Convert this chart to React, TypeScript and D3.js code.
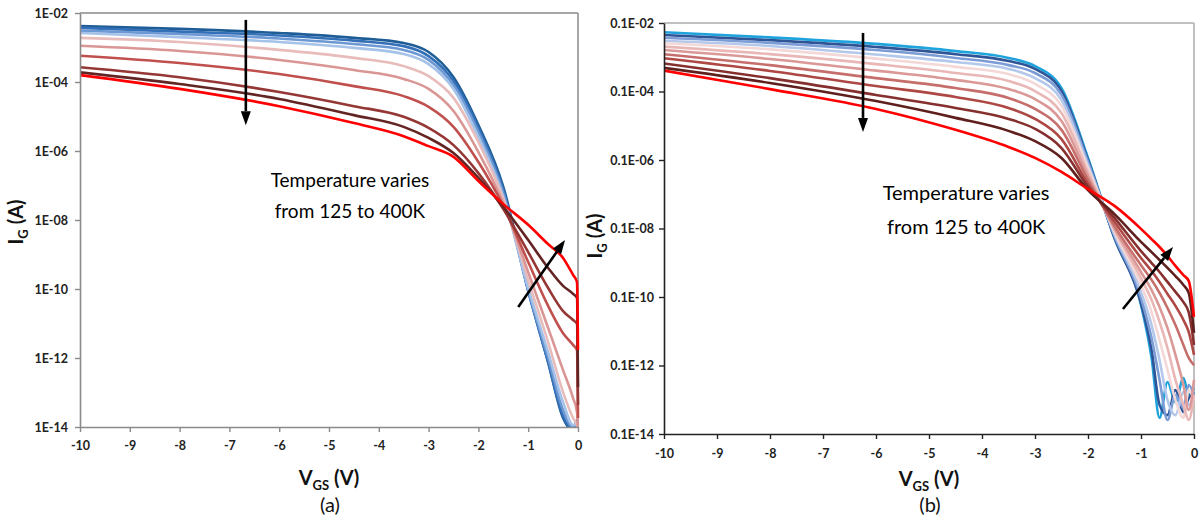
import React, { useEffect, useRef } from 'react';
import * as d3 from 'd3';

const W = 1200;
const H = 524;

// ---- panel (a): gate voltage grid and log10(I_G) per temperature ----
const vgsA = [-10, -8, -6, -4.5, -3.5, -3, -2.5, -2, -1.5, -1, -0.6, -0.3, -0.1, -0.02, 0];
const igA1 = [-2.38, -2.46, -2.58, -2.72, -2.87, -3.13, -3.86, -5.25, -7.04, -10.03, -12.12, -13.74, -14.1, -13.8, -14.2];
const igA2 = [-2.43, -2.54, -2.65, -2.8, -2.96, -3.25, -3.97, -5.33, -7.13, -10.06, -12.12, -13.68, -14.05, -13.85, -14.2];
const igA3 = [-2.51, -2.61, -2.74, -2.9, -3.07, -3.36, -4.09, -5.45, -7.22, -10.03, -12.0, -13.51, -14.0, -13.9, -14.2];
const igA4 = [-2.58, -2.7, -2.84, -3.01, -3.19, -3.48, -4.2, -5.59, -7.33, -9.97, -11.83, -13.28, -13.94, -13.9, -14.2];
const igA5 = [-2.72, -2.84, -3.07, -3.3, -3.54, -3.83, -4.46, -5.74, -7.39, -9.74, -11.54, -12.99, -13.74, -13.95, -14.2];
const igA6 = [-2.95, -3.1, -3.36, -3.65, -3.91, -4.2, -4.84, -6.03, -7.51, -9.51, -11.13, -12.35, -13.16, -13.57, -14.2];
const igA7 = [-3.24, -3.45, -3.77, -4.12, -4.41, -4.72, -5.3, -6.32, -7.59, -9.22, -10.49, -11.28, -11.62, -11.77, -13.74];
const igA8 = [-3.57, -3.86, -4.29, -4.7, -5.01, -5.33, -5.83, -6.64, -7.68, -8.93, -9.97, -10.64, -10.9, -11.01, -13.36];
const igA9 = [-3.72, -4.06, -4.49, -4.96, -5.3, -5.62, -6.06, -6.78, -7.62, -8.58, -9.39, -9.91, -10.14, -10.26, -12.84];
const igA10 = [-3.8, -4.2, -4.7, -5.19, -5.57, -5.86, -6.17, -6.87, -7.54, -8.14, -8.7, -9.1, -9.59, -9.8, -11.77];
const colorsA = ['#1F5D97', '#3470B8', '#6C98D4', '#A5C2E8', '#E8BCBB', '#D99694', '#C0504D', '#953735', '#632523', '#FF0000'];
const yTicksA = [-2, -4, -6, -8, -10, -12, -14];
const yLabelsA = ['1E-02', '1E-04', '1E-06', '1E-08', '1E-10', '1E-12', '1E-14'];

// ---- panel (b) ----
const vgsB = [-10, -8, -6, -4.5, -3.5, -3, -2.5, -2, -1.5, -1, -0.8, -0.65, -0.5, -0.35, -0.2, -0.1, 0];
const igB1 = [-3.27, -3.42, -3.61, -3.82, -4.02, -4.26, -4.9, -6.94, -9.28, -11.23, -12.78, -14.53, -13.48, -14.07, -13.37, -13.86, -13.66];
const igB2 = [-3.35, -3.5, -3.7, -3.91, -4.11, -4.34, -4.99, -7.0, -9.28, -11.18, -12.55, -14.15, -14.45, -13.72, -14.36, -13.95, -13.77];
const igB3 = [-3.43, -3.58, -3.79, -4.02, -4.23, -4.46, -5.1, -7.06, -9.22, -11.03, -12.2, -13.42, -14.59, -13.86, -14.24, -13.57, -13.86];
const igB4 = [-3.52, -3.67, -3.92, -4.14, -4.34, -4.61, -5.25, -7.15, -9.16, -10.85, -11.82, -12.84, -14.01, -14.45, -13.77, -14.15, -13.95];
const igB5 = [-3.59, -3.77, -4.04, -4.28, -4.49, -4.78, -5.42, -7.23, -9.1, -10.65, -11.44, -12.26, -13.13, -14.01, -14.53, -13.72, -14.01];
const igB6 = [-3.69, -3.91, -4.2, -4.46, -4.69, -4.99, -5.63, -7.35, -9.04, -10.45, -11.09, -11.73, -12.49, -13.42, -14.15, -14.59, -13.86];
const igB7 = [-3.79, -4.05, -4.39, -4.66, -4.93, -5.22, -5.86, -7.47, -8.99, -10.27, -10.8, -11.29, -11.91, -12.69, -13.57, -14.3, -13.42];
const igB8 = [-3.91, -4.23, -4.61, -4.9, -5.19, -5.51, -6.12, -7.58, -8.93, -10.07, -10.5, -10.88, -11.32, -11.82, -12.4, -12.78, -12.99];
const igB9 = [-4.03, -4.4, -4.84, -5.16, -5.48, -5.8, -6.39, -7.7, -8.81, -9.86, -10.24, -10.56, -10.91, -11.26, -11.67, -12.02, -12.69];
const igB10 = [-4.18, -4.61, -5.1, -5.48, -5.8, -6.09, -6.65, -7.79, -8.69, -9.66, -10.01, -10.27, -10.56, -10.85, -11.15, -11.44, -12.4];
const igB11 = [-4.31, -4.75, -5.28, -5.77, -6.15, -6.45, -6.94, -7.88, -8.58, -9.39, -9.69, -9.92, -10.15, -10.39, -10.65, -10.88, -12.05];
const igB12 = [-4.39, -4.93, -5.51, -6.12, -6.62, -6.94, -7.35, -7.85, -8.34, -9.01, -9.31, -9.54, -9.8, -10.09, -10.36, -10.53, -11.58];
const colorsB = ['#1FA3DD', '#2F5597', '#7C9CD6', '#B3C8EA', '#F3D8D7', '#E9B7B6', '#DA9896', '#C66E6B', '#AD4845', '#85302E', '#5F1F1D', '#FF0000'];
const yTicksB = [-3, -5, -7, -9, -11, -13, -15];
const yLabelsB = ['0.1E-02', '0.1E-04', '0.1E-06', '0.1E-08', '0.1E-10', '0.1E-12', '0.1E-14'];

const xTicks = [-10, -9, -8, -7, -6, -5, -4, -3, -2, -1, 0];

// arrows and notes, in (V, log10 I) coordinates
const arrowsA = [
  [[-6.67, -2.2], [-6.67, -5.25]],
  [[-1.2, -10.52], [-0.26, -8.58]],
];
const arrowsB = [
  [[-6.245, -3.29], [-6.245, -6.18]],
  [[-1.34, -11.35], [-0.396, -9.54]],
];
const noteLines = ['Temperature varies', 'from 125 to 400K'];

const tickFont = "'Liberation Sans Narrow', 'Arial Narrow', Lato, sans-serif";
const textFont = "Lato, 'Open Sans', sans-serif";

const panels = [
  {
    id: 'a', left: 80, right: 578, top: 13, bottom: 427, yMin: -14, yMax: -2,
    vgs: vgsA, series: [igA1, igA2, igA3, igA4, igA5, igA6, igA7, igA8, igA9, igA10], colors: colorsA,
    yTicks: yTicksA, yLabels: yLabelsA, arrows: arrowsA,
    axisColor: '#8a8a8a', frameColor: '#8a8a8a', frameWidth: 1.5, yPad: 7, xPad: 9,
    note: { v: -4.58, l: [-7.04, -7.94], size: 19 },
    yTitle: [23, 222], xTitle: [329, 485], tag: ['(a)', 330, 512],
  },
  {
    id: 'b', left: 664, right: 1194, top: 23, bottom: 434, yMin: -15, yMax: -3,
    vgs: vgsB, series: [igB1, igB2, igB3, igB4, igB5, igB6, igB7, igB8, igB9, igB10, igB11, igB12], colors: colorsB,
    yTicks: yTicksB, yLabels: yLabelsB, arrows: arrowsB,
    axisColor: '#222', frameColor: '#c0c0c0', frameWidth: 2, yPad: 5, xPad: 10,
    note: { v: -4.3, l: [-8.17, -9.16], size: 20 },
    yTitle: [602, 236], xTitle: [929, 486], tag: ['(b)', 930, 512],
  },
];

function drawPanel(svg: any, p: any) {
  const x = d3.scaleLinear().domain([-10, 0]).range([p.left, p.right]);
  const y = d3.scaleLog().domain([10 ** p.yMin, 10 ** p.yMax]).range([p.bottom, p.top]);
  const g = svg.append('g');

  // frame top and right
  g.append('line')
    .attr('x1', x(-10)).attr('x2', x(0)).attr('y1', y(10 ** p.yMax)).attr('y2', y(10 ** p.yMax))
    .attr('stroke', p.frameColor).attr('stroke-width', p.frameWidth);
  g.append('line')
    .attr('x1', x(0)).attr('x2', x(0)).attr('y1', y(10 ** p.yMax)).attr('y2', y(10 ** p.yMin))
    .attr('stroke', p.frameColor).attr('stroke-width', p.frameWidth);

  const clipId = 'clip-' + p.id;
  svg.append('defs').append('clipPath').attr('id', clipId)
    .append('rect')
    .attr('x', p.left).attr('y', p.top)
    .attr('width', p.right - p.left + 3).attr('height', p.bottom - p.top);

  const line = d3.line<number>()
    .x((_, i) => x(p.vgs[i]))
    .y((d) => y(10 ** d))
    .curve(d3.curveMonotoneX);

  const curves = g.append('g').attr('clip-path', `url(#${clipId})`);
  p.series.forEach((s: number[], k: number) => {
    curves.append('path')
      .attr('d', line(s))
      .attr('fill', 'none')
      .attr('stroke', p.colors[k])
      .attr('stroke-width', 2.6)
      .attr('stroke-linejoin', 'round');
  });

  // axes
  const yAxis = d3.axisLeft(y)
    .tickValues(p.yTicks.map((e: number) => 10 ** e))
    .tickFormat((_: any, i: number) => p.yLabels[i])
    .tickSize(5).tickSizeOuter(0).tickPadding(p.yPad);
  const ya = g.append('g').attr('transform', `translate(${p.left},0)`).call(yAxis);
  const xAxis = d3.axisBottom(x)
    .tickValues(xTicks)
    .tickFormat((d: any) => String(d))
    .tickSize(5).tickSizeOuter(0).tickPadding(p.xPad);
  const xa = g.append('g').attr('transform', `translate(0,${p.bottom})`).call(xAxis);
  [ya, xa].forEach((a) => {
    a.select('.domain').attr('stroke', p.axisColor).attr('stroke-width', 1.6);
    a.selectAll('.tick line').attr('stroke', p.axisColor).attr('stroke-width', 1.4);
    a.selectAll('.tick text')
      .attr('fill', '#222').attr('font-family', tickFont)
      .attr('font-weight', 'bold').attr('font-size', 12.5);
  });

  // arrows
  p.arrows.forEach((a: number[][]) => {
    const x1 = x(a[0][0]), y1 = y(10 ** a[0][1]);
    const x2 = x(a[1][0]), y2 = y(10 ** a[1][1]);
    const ang = Math.atan2(y2 - y1, x2 - x1);
    const len = 14, hw = 5;
    const bx = x2 - len * Math.cos(ang), by = y2 - len * Math.sin(ang);
    g.append('line')
      .attr('x1', x1).attr('y1', y1).attr('x2', bx).attr('y2', by)
      .attr('stroke', '#000').attr('stroke-width', 2.6);
    const pts = [
      [x2, y2],
      [bx + hw * Math.sin(ang), by - hw * Math.cos(ang)],
      [bx - hw * Math.sin(ang), by + hw * Math.cos(ang)],
    ];
    g.append('polygon').attr('points', pts.map((q) => q.join(',')).join(' ')).attr('fill', '#000');
  });

  // note
  noteLines.forEach((t, i) => {
    g.append('text')
      .attr('x', x(p.note.v)).attr('y', y(10 ** p.note.l[i]))
      .attr('text-anchor', 'middle')
      .attr('font-family', textFont).attr('font-size', p.note.size).attr('fill', '#000')
      .text(t);
  });

  // y title
  const yt = g.append('text')
    .attr('transform', `translate(${p.yTitle[0]},${p.yTitle[1]}) rotate(-90)`)
    .attr('text-anchor', 'middle')
    .attr('font-family', textFont).attr('font-weight', 'bold').attr('font-size', 20).attr('fill', '#111');
  yt.append('tspan').text('I');
  yt.append('tspan').attr('font-size', 13).attr('dy', 5).text('G');
  yt.append('tspan').attr('dy', -5).text(' (A)');

  // x title
  const xt = g.append('text')
    .attr('x', p.xTitle[0]).attr('y', p.xTitle[1])
    .attr('text-anchor', 'middle')
    .attr('font-family', textFont).attr('font-weight', 'bold').attr('font-size', 20).attr('fill', '#111');
  xt.append('tspan').text('V');
  xt.append('tspan').attr('font-size', 13).attr('dy', 5).text('GS');
  xt.append('tspan').attr('dy', -5).text(' (V)');

  g.append('text')
    .attr('x', p.tag[1]).attr('y', p.tag[2])
    .attr('text-anchor', 'middle')
    .attr('font-family', textFont).attr('font-size', 20).attr('fill', '#111')
    .text(p.tag[0]);
}

export default function App() {
  const ref = useRef<SVGSVGElement>(null);

  useEffect(() => {
    const svg = d3.select(ref.current);
    svg.selectAll('*').remove();
    panels.forEach((p) => drawPanel(svg, p));
  }, []);

  return (
    <svg
      ref={ref}
      width={W}
      height={H}
      style={{ position: 'absolute', left: 0, top: 0, background: '#fff' }}
    />
  );
}
